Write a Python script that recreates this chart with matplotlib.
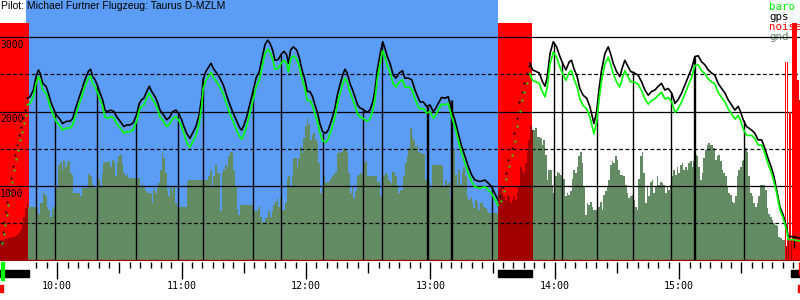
import matplotlib
matplotlib.use("Agg")
import matplotlib.pyplot as plt
import numpy as np

# time = minutes after midnight, altitude in metres
pilot = "Pilot: Michael Furtner Flugzeug: Taurus D-MZLM"

t_start, t_end = 572.4, 958.3
task = (584.9, 812.6)          # blue window

# first flight leg
t_a = [585.6, 586.9, 588.5, 589.8, 590.9, 591.7, 593.0, 594.6, 595.7, 596.9,
       598.1, 599.4, 601.0, 602.6, 604.6, 606.2, 607.5, 608.6, 610.2, 611.8,
       613.4, 615.0, 616.1, 617.1, 618.2, 619.3, 620.6, 621.9, 623.0, 624.2,
       625.8, 627.4, 628.7, 630.3, 632.2, 633.5, 635.1, 636.7, 638.3, 639.6,
       640.7, 641.8, 643.2, 644.4, 645.6, 647.2, 648.3, 649.6, 651.2, 652.8,
       654.1, 655.7, 657.3, 658.9, 660.0, 661.1, 662.4, 664.0, 665.3, 666.9,
       668.5, 669.7, 670.4, 671.7, 673.1, 674.2, 675.3, 676.9, 678.5, 680.1,
       681.7, 683.3, 684.9, 686.6, 688.1, 689.0, 690.1, 691.4, 693.0, 694.6,
       695.9, 697.5, 698.6, 700.2, 701.5, 702.6, 703.9, 705.0, 706.6, 708.3,
       709.4, 710.7, 711.5, 712.6, 713.9, 715.5, 716.8, 717.9, 719.5, 720.6,
       721.9, 723.2, 724.3, 725.6, 726.7, 728.0, 729.6, 730.7, 732.4, 734.0,
       735.1, 736.4, 737.7, 738.8, 739.9, 741.2, 742.5, 743.6, 744.9, 746.0,
       747.6, 749.3, 750.9, 752.2, 753.3, 754.4, 755.7, 757.0, 758.1, 759.2,
       760.5, 762.1, 763.4, 765.0, 766.6, 767.7, 769.3, 771.0, 772.6, 774.2,
       775.0, 776.6, 778.2, 779.8, 781.4, 782.7, 783.8, 785.4, 787.0, 788.6,
       790.3, 791.8, 793.4, 795.1, 796.7, 798.3, 799.9, 801.5, 803.9, 806.3,
       807.9, 809.5, 811.1, 812.7]
gps_a = [2180, 2200, 2290, 2470, 2560, 2520, 2380, 2340, 2250, 2130,
         2050, 1960, 1910, 1840, 1870, 1870, 1910, 2020, 2160, 2290,
         2430, 2540, 2570, 2470, 2430, 2360, 2250, 2160, 2020, 2000,
         2020, 2000, 1930, 1870, 1800, 1820, 1820, 1850, 1960, 2110,
         2160, 2180, 2270, 2340, 2270, 2200, 2130, 2020, 1960, 1890,
         1920, 2000, 2020, 1960, 1890, 1800, 1710, 1640, 1710, 1800,
         1960, 2200, 2430, 2540, 2600, 2650, 2580, 2520, 2450, 2360,
         2220, 2090, 1980, 1870, 1780, 1750, 1820, 1930, 2110, 2290,
         2450, 2540, 2690, 2900, 2960, 2920, 2830, 2690, 2700, 2780,
         2810, 2760, 2650, 2830, 2870, 2830, 2720, 2580, 2430, 2270,
         2270, 2200, 2090, 1980, 1840, 1730, 1710, 1750, 1890, 2050,
         2220, 2360, 2490, 2570, 2520, 2380, 2290, 2200, 2090, 2050,
         2030, 1990, 2020, 2130, 2290, 2560, 2760, 2940, 2850, 2740,
         2650, 2490, 2450, 2520, 2550, 2450, 2450, 2430, 2290, 2180,
         2130, 2130, 2070, 2090, 2000, 2050, 2110, 2190, 2180, 2200,
         2020, 1890, 1710, 1530, 1400, 1260, 1150, 1080, 1060, 1080,
         1040, 990, 900, 810]
baro_a = [2090, 2110, 2200, 2380, 2470, 2430, 2290, 2250, 2160, 2040,
          1960, 1870, 1820, 1750, 1780, 1780, 1820, 1930, 2070, 2200,
          2340, 2450, 2480, 2380, 2340, 2270, 2160, 2070, 1930, 1910,
          1930, 1910, 1840, 1780, 1710, 1730, 1730, 1760, 1870, 2020,
          2070, 2090, 2180, 2250, 2180, 2110, 2040, 1930, 1870, 1800,
          1830, 1910, 1930, 1870, 1800, 1710, 1590, 1520, 1590, 1680,
          1840, 2080, 2310, 2420, 2480, 2530, 2460, 2400, 2330, 2240,
          2100, 1970, 1860, 1750, 1660, 1630, 1700, 1810, 1990, 2170,
          2330, 2420, 2570, 2780, 2840, 2800, 2710, 2570, 2580, 2660,
          2690, 2640, 2530, 2710, 2750, 2710, 2600, 2460, 2310, 2150,
          2150, 2080, 1970, 1860, 1720, 1610, 1590, 1630, 1770, 1930,
          2100, 2240, 2370, 2450, 2400, 2260, 2170, 2080, 1970, 1930,
          1910, 1870, 1900, 2010, 2170, 2440, 2640, 2820, 2730, 2620,
          2530, 2370, 2330, 2400, 2430, 2330, 2330, 2310, 2170, 2060,
          2040, 2040, 1980, 2000, 1910, 1960, 2020, 2100, 2090, 2110,
          1930, 1800, 1620, 1440, 1310, 1170, 1060, 990, 970, 990,
          950, 900, 820, 740]

# second flight leg
t_b = [828.0, 829.3, 830.9, 832.5, 834.1, 835.3, 836.4, 837.7, 839.3, 840.9,
       842.2, 843.8, 845.4, 847.0, 848.1, 849.2, 850.8, 852.1, 853.7, 855.4,
       856.9, 858.3, 858.9, 860.2, 861.4, 862.6, 864.2, 865.8, 866.9, 868.2,
       869.8, 871.4, 872.7, 873.8, 874.9, 876.6, 878.2, 880.2, 881.9, 883.5,
       885.1, 886.7, 888.3, 889.9, 891.5, 893.1, 894.7, 896.4, 898.0, 899.5,
       901.2, 902.8, 904.4, 906.0, 907.6, 909.2, 910.8, 912.4, 914.0, 915.6,
       917.2, 918.8, 920.5, 922.1, 923.6, 925.3, 926.9, 928.5, 929.6, 930.9,
       932.5, 935.0, 936.5, 938.1, 939.8, 941.3, 942.9, 944.6, 945.7, 947.0,
       948.6, 950.2, 951.8, 952.6, 955.0, 958.2]
gps_b = [2650, 2560, 2540, 2520, 2400, 2340, 2470, 2780, 2940, 2870,
         2760, 2650, 2560, 2670, 2690, 2580, 2470, 2310, 2220, 2180,
         2070, 1910, 1840, 2000, 2310, 2560, 2780, 2870, 2780, 2650,
         2540, 2470, 2600, 2690, 2630, 2540, 2520, 2490, 2400, 2290,
         2220, 2270, 2290, 2340, 2380, 2290, 2310, 2250, 2110, 2160,
         2250, 2360, 2470, 2580, 2740, 2750, 2670, 2630, 2560, 2520,
         2490, 2380, 2310, 2250, 2160, 2090, 2020, 2070, 2000, 1890,
         1800, 1750, 1710, 1620, 1620, 1510, 1370, 1240, 1130, 950,
         720, 610, 450, 320, 320, 300]
baro_b = [2510, 2420, 2400, 2380, 2260, 2200, 2330, 2640, 2800, 2730,
          2620, 2510, 2420, 2530, 2550, 2440, 2330, 2170, 2080, 2040,
          1930, 1770, 1700, 1860, 2170, 2420, 2640, 2730, 2640, 2510,
          2400, 2330, 2460, 2550, 2490, 2400, 2400, 2370, 2280, 2170,
          2100, 2150, 2170, 2220, 2260, 2170, 2190, 2130, 1990, 2040,
          2130, 2240, 2350, 2460, 2620, 2630, 2550, 2510, 2440, 2400,
          2370, 2260, 2190, 2130, 2040, 1970, 1900, 1950, 1880, 1770,
          1680, 1680, 1640, 1550, 1550, 1440, 1300, 1170, 1060, 910,
          680, 570, 410, 280, 280, 260]

# sparse fixes during the engine climbs
climb1_t = [572.9, 573.8, 574.3, 575.3, 575.8, 576.7, 577.7, 578.7, 579.6,
            580.6, 581.6, 582.5, 583.5, 584.5]
climb1_gps = [250, 380, 520, 650, 790, 950, 1110, 1270, 1420, 1550, 1690,
              1790, 1920, 2020]
climb1_baro = [230, 350, 480, 610, 750, 900, 1060, 1210, 1360, 1490, 1620,
               1720, 1850, 1950]
climb2_t = [813.6, 815.1, 816.4, 817.5, 819.2, 820.4, 821.6, 822.7, 824.0,
            825.1, 826.4, 827.7]
climb2_gps = [860, 990, 1170, 1350, 1510, 1710, 1910, 2130, 2270, 2380,
              2520, 2610]
climb2_baro = [800, 930, 1100, 1270, 1420, 1610, 1800, 2010, 2150, 2260,
               2390, 2480]

# vertical markers (from ground line up to the track)
mark_t = [589.8, 599.1, 619.3, 638.1, 658.4, 670.2, 694.6, 708.1, 728.3,
          747.3, 756.8, 778.2, 778.7, 789.8, 790.3, 809.5, 839.7, 843.3,
          860.5, 877.9, 896.0, 907.1, 907.6, 931.4]
mark_alt = [2470, 1980, 2360, 1890, 2000, 2470, 2290, 2780, 1710, 2020, 2920,
            2070, 2070, 2160, 2160, 1010, 2920, 2670, 2020, 2540, 2250, 2740,
            2740, 1890]
end_mark = (955.3, 170, 320)

# ground elevation below the glider, one value every gnd_dt minutes
gnd_t0 = 572.4
gnd_dt = 0.8038
gnd = [275, 275, 275, 285, 290, 295, 300, 310, 320, 330, 340, 370, 410, 500,
       590, 700, 770,
       720, 720, 720, 720, 720, 720, 630, 770, 770, 900,
       860, 720, 680, 590, 680, 720, 970, 970, 1280, 1320,
       1220, 1330, 1260, 1310, 1330, 1170, 1150, 900, 900, 900,
       900, 860, 970, 970, 970, 970, 1160, 1130, 1040, 970,
       970, 900, 1100, 990, 1170, 1310, 1320, 1320, 1320, 1260,
       1350, 1340, 1130, 1310, 1400, 1420, 1310, 1170, 1130, 1160,
       1110, 1110, 1110, 1110, 1110, 1110, 1110, 990, 1040, 990,
       930, 900, 900, 900, 770, 950, 900, 970, 1040, 1220,
       1440, 1370, 1170, 950, 860, 990, 900, 990, 770, 720,
       720, 720, 720, 720, 720, 1060, 1080, 1080, 1080, 1080,
       1080, 1080, 1080, 1080, 1080, 1080, 1080, 1080, 1130, 1220,
       970, 1130, 1280, 1170, 1170,
       660, 1170, 1220, 1280, 1260, 1400, 1460, 1440, 1220, 990,
       680, 610, 740, 740, 740, 740, 740, 740, 740, 740,
       670, 670, 670, 720, 590, 520, 520, 570, 590, 660,
       590, 660, 750, 790, 840, 720, 840, 660, 680, 770,
       1100, 1130, 990, 1130, 1370, 1370, 1260, 1370, 1530, 1440,
       1640, 1800, 1910, 1840, 1620, 1690, 1710, 1620, 1580, 1310,
       900, 990, 1130, 1040, 1060, 1060, 1100, 1130, 1150, 1190,
       1440, 1440, 1460, 1460, 1510, 1490, 1440, 1170, 900, 990,
       840, 930, 1130, 1150, 1170, 1170, 1310, 1330, 1130, 1130,
       1130, 1130, 1130, 1130, 1060, 1060, 860, 1040, 1130, 1170,
       1150, 1080, 1040, 1190, 1190, 1130, 990, 900, 950, 950,
       1130, 1310, 1400, 1510, 1780, 1660, 1620, 1530, 1550, 1460,
       1440, 1430, 1430, 1080, 770, 1040, 970, 1280, 1280, 1280,
       1280, 1280, 1280, 1280, 990, 1080, 1020, 1040, 840, 1310,
       1490, 1150, 990, 1220, 1020, 1170, 1260, 1130, 860, 810,
       840, 770, 700, 810, 770, 680, 770, 790, 720, 700,
       660, 640, 640, 640, 640, 640, 640, 950, 990, 900,
       860, 810, 880, 860, 770, 810, 860, 810, 900, 990,
       1260, 1220, 1170, 1310, 1440, 1620, 1800, 1750, 1750, 1780,
       1660, 1660, 1640, 1550, 1620, 1420, 1080, 1220, 1220, 1020,
       900, 1130, 1190, 1170, 1150, 1150, 1100, 860, 900, 880,
       930, 1100, 1220, 1170, 1260, 1400, 1460, 1310, 990, 610,
       770, 750, 790, 720, 680, 680, 680, 720, 790, 680,
       880, 930, 990, 1080, 1280, 1330, 1310, 1400, 1350, 1220,
       1150, 1150, 1130, 1020, 900, 840, 860, 880, 810, 720,
       680, 1100, 1400, 1460, 1170, 770, 990, 860, 1060, 1080,
       900, 990, 1130, 1020, 1060, 1040, 1020, 900, 990, 950,
       1020, 1130, 1220, 1150, 1260, 1170, 1280, 1310, 1220, 1260,
       1220, 1310, 1330, 1260, 1330, 1420, 1400, 1260, 1080, 1170,
       1370, 1490, 1550, 1580, 1550, 1550, 1510, 1350, 1400, 1420,
       1330, 1220, 1170, 1130, 990, 900, 880, 790, 770, 860,
       1130, 1220, 1260, 1330, 1350, 1510, 1460, 1130, 900, 860,
       770, 720, 770, 860, 1020, 1020, 1020, 950, 700, 630,
       590, 540, 500, 480, 460, 320, 300, 280, 280,
       200, 260, 270, 280, 280, 270, 270, 260, 270, 270]

# engine noise
noise_runs = [(572.4, 586.4, 3190), (812.6, 829.0, 3190)]
burst_t = [951.0, 952.1, 953.2, 954.2, 957.0, 957.7]
burst_w = [0.55, 0.55, 0.55, 2.5, 0.6, 0.6]
burst_v = [2670, 2670, 2000, 3190, 2420, 2160]
dark_runs = [(572.4, 586.0), (812.6, 829.0), (950.3, 958.3)]
engine_bars = [(572.4, 586.4), (812.6, 829.0), (953.9, 958.3)]
takeoff_t = 572.9
log_marks = [572.4, 957.3]

grid_solid = [1000, 2000, 3000]
grid_dash = [500, 1500, 2500]
alt_labels = [1000, 2000, 3000]
hours = [10, 11, 12, 13, 14, 15]

BLUE = "#5b9cf6"
GND = "#648c64"
DARK = "#a00000"
BARO = "#00ff00"
MONO = "DejaVu Sans Mono"

fig = plt.figure(figsize=(8, 3), dpi=100)
ax = fig.add_axes([0, 39 / 300, 1, 261 / 300])
ax.set_xlim(t_start, t_end)
ax.set_ylim(-8, 3500)
ax.axis("off")

ax.axvspan(task[0], task[1], color=BLUE, lw=0, zorder=0)

for a, b, v in noise_runs:
    ax.fill_between([a, b], 0, v, color="red", lw=0, zorder=1)
ax.bar(burst_t, burst_v, width=burst_w, align="edge", color="red", lw=0,
       antialiased=False, zorder=3.5)

gnd_t = gnd_t0 + gnd_dt * np.arange(len(gnd))
cols = [DARK if any(a <= t < b for a, b in dark_runs) else GND for t in gnd_t]
ax.bar(gnd_t, gnd, width=gnd_dt * 1.05, align="edge", color=cols, lw=0,
       antialiased=False, zorder=2)
ax.axhline(0, color=DARK, lw=1, zorder=2.2)

# legend text (sits below the grid lines)
for i, (name, c) in enumerate([("baro", BARO), ("gps", "black"),
                               ("noise", "red"), ("gnd", GND)]):
    ax.text(769 / 800, 1 - (10 + 10 * i) / 261, name, transform=ax.transAxes,
            color=c, fontsize=7.8, family=MONO, va="baseline", zorder=2.5)

for g in grid_solid:
    ax.axhline(g, color="black", lw=0.9, zorder=3)
for g in grid_dash:
    ax.axhline(g, color="black", lw=0.9, dashes=(3, 2), zorder=3)

ax.vlines(mark_t, 0, mark_alt, color="black", lw=1, zorder=4)
ax.vlines(end_mark[0], end_mark[1], end_mark[2], color="black", lw=1, zorder=4)

ax.plot(t_a, gps_a, color="black", lw=1.2, zorder=5)
ax.plot(t_b, gps_b, color="black", lw=1.2, zorder=5)
ax.plot(t_a, baro_a, color=BARO, lw=1.2, zorder=6)
ax.plot(t_b, baro_b, color=BARO, lw=1.2, zorder=6)
for ct, cg, cb in [(climb1_t, climb1_gps, climb1_baro),
                   (climb2_t, climb2_gps, climb2_baro)]:
    ax.plot(ct, cg, "s", color="black", ms=1.3, mew=0, zorder=6)
    ax.plot(np.array(ct) + 0.3, cb, "s", color=BARO, ms=1.3, mew=0, zorder=6)

for v in alt_labels:
    ax.annotate(str(v), xy=(0, v), xycoords=("axes fraction", "data"),
                xytext=(0, -2), textcoords="offset points", va="top", ha="left",
                fontsize=7, family=MONO, zorder=7)

ax.text(0.001, 1 - 9 / 261, pilot, transform=ax.transAxes, fontsize=7.5,
        family="Liberation Sans", va="baseline", zorder=7)

# time strip under the plot
ax2 = fig.add_axes([0, 0, 1, 39 / 300])
ax2.set_xlim(t_start, t_end)
ax2.set_ylim(39, 0)
ax2.axis("off")
for m in range(590, 960, 5):
    L = 18 if m % 60 == 0 else (12 if m % 30 == 0 else 7)
    ax2.vlines(m, 1, L, color="black", lw=1)
for h in hours:
    ax2.text(h * 60, 25, "%d:00" % h, ha="center", va="center", fontsize=7.2,
             family=MONO)
ax2.broken_barh([(a, b - a) for a, b in engine_bars], (9, 7), color="black")
ax2.broken_barh([(takeoff_t, 1.4)], (1, 18), color=BARO)
ax2.broken_barh([(log_marks[0], 1.4), (log_marks[1], 1.2)], (24, 7), color="red")
ax2.vlines(log_marks[1] + 0.3, 1, 14, color="red", lw=1)

fig.savefig("out.png", dpi=100)
